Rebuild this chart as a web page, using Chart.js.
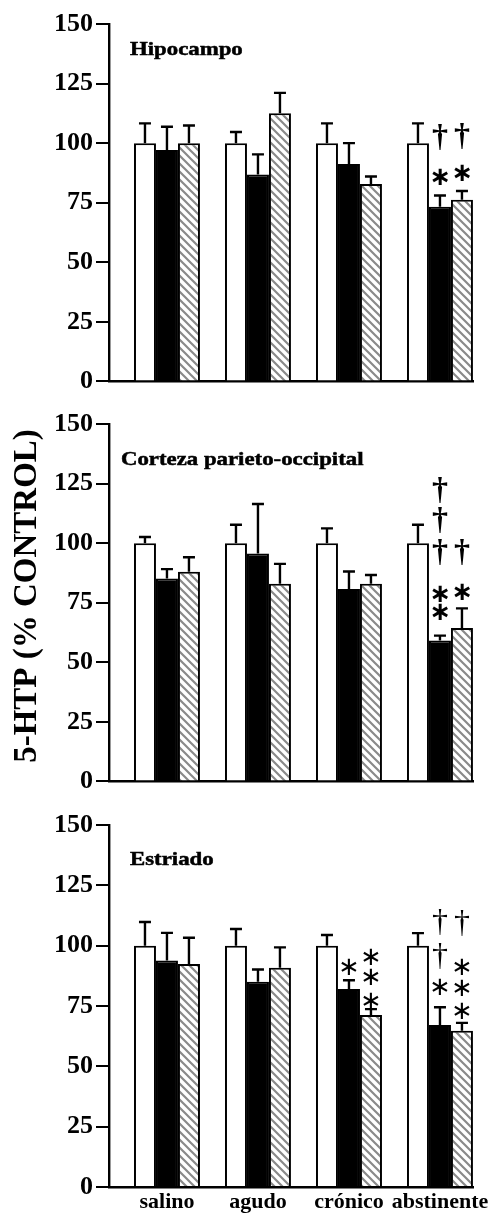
<!DOCTYPE html>
<html>
<head>
<meta charset="utf-8">
<script src="https://cdn.jsdelivr.net/npm/chart.js@4.4.0/dist/chart.umd.min.js"></script>
<style>
  html, body { margin: 0; padding: 0; background: #fff; }
  #wrap { position: relative; width: 500px; height: 1213px; overflow: hidden; background: #fff; }
  canvas { position: absolute; left: 0; }
</style>
</head>
<body>
<div id="wrap">
  <canvas id="hipocampo" width="500" height="400" style="top:0px"></canvas>
  <canvas id="corteza" width="500" height="400" style="top:400px"></canvas>
  <canvas id="estriado" width="500" height="413" style="top:800px"></canvas>
</div>
<script>
// Treatment groups along the x axis
const categories = ['salino', 'agudo', 'crónico', 'abstinente'];
const yTicks = [0, 25, 50, 75, 100, 125, 150];
const yTitle = '5-HTP (% CONTROL)';

// Hipocampo: means and SEM for the three bar series
const hipoWhite = [100, 100, 100, 100];
const hipoWhiteErr = [8.3, 4.7, 8.3, 8.3];
const hipoBlack = [97.1, 86.8, 91.2, 73.3];
const hipoBlackErr = [9.8, 8.5, 8.8, 4.7];
const hipoHatch = [100, 112.5, 82.8, 76.2];
const hipoHatchErr = [7.4, 8.6, 3.2, 3.7];
// significance marks: [series, category, level, symbol]
const hipoMarks = [
  [1, 3, 86.0, '∗'], [1, 3, 102.4, '†'],
  [2, 3, 87.6, '∗'], [2, 3, 103.0, '†']
];

// Corteza parieto-occipital
const cortWhite = [100, 100, 100, 100];
const cortWhiteErr = [2.6, 7.7, 6.2, 7.7];
const cortBlack = [85.2, 95.6, 80.7, 59.1];
const cortBlackErr = [3.9, 20.8, 7.4, 2.1];
const cortHatch = [88.0, 83.0, 83.0, 64.4];
const cortHatchErr = [6.1, 8.3, 3.6, 8.2];
const cortMarks = [
  [1, 3, 71.3, '∗'], [1, 3, 78.7, '∗'],
  [1, 3, 96.1, '†'], [1, 3, 109.8, '†'], [1, 3, 122.3, '†'],
  [2, 3, 79.6, '∗'], [2, 3, 96.1, '†']
];

// Estriado
const estrWhite = [100, 100, 100, 100];
const estrWhiteErr = [9.8, 6.9, 4.4, 5.2];
const estrBlack = [93.9, 85.1, 82.0, 67.1];
const estrBlackErr = [11.4, 5.0, 3.7, 7.4];
const estrHatch = [92.4, 90.8, 71.3, 64.7];
const estrHatchErr = [10.9, 8.5, 2.4, 3.3];
const estrMarks = [
  [1, 2, 91.2, '∗'],
  [2, 2, 77.4, '∗'], [2, 2, 87.1, '∗'], [2, 2, 95.7, '∗'],
  [1, 3, 83.2, '∗'], [1, 3, 95.7, '†'], [1, 3, 109.6, '†'],
  [2, 3, 73.3, '∗'], [2, 3, 82.6, '∗'], [2, 3, 91.5, '∗'], [2, 3, 109.4, '†']
];

// diagonal hatch fill for the third series
function makeHatch() {
  const s = 8;
  const c = document.createElement('canvas');
  c.width = s; c.height = s;
  const g = c.getContext('2d');
  g.fillStyle = '#fff';
  g.fillRect(0, 0, s, s);
  g.strokeStyle = '#8a8a8a';
  g.lineWidth = 2.2;
  g.beginPath();
  for (const o of [-s, 0, s]) {
    g.moveTo(o - 1, -1);
    g.lineTo(o + s + 1, s + 1);
  }
  g.stroke();
  return g.createPattern(c, 'repeat');
}
const hatch = makeHatch();

function toPoints(arr) { return arr.map((v, i) => ({ x: i, y: v })); }

// draw a glyph with its ink centred on (x, y)
function drawInkCentered(ctx, text, x, y) {
  ctx.textAlign = 'center';
  ctx.textBaseline = 'alphabetic';
  const m = ctx.measureText(text);
  const dy = (m.actualBoundingBoxAscent - m.actualBoundingBoxDescent) / 2;
  const dx = (m.actualBoundingBoxLeft - m.actualBoundingBoxRight) / 2;
  ctx.fillText(text, x + dx, y + dy);
}

// error bars (upper half), significance symbols, panel title
const panelPlugin = {
  id: 'panelExtras',
  afterDatasetsDraw(chart, args, opts) {
    const ctx = chart.ctx;
    const yScale = chart.scales.y;
    ctx.save();
    ctx.strokeStyle = '#000';
    ctx.lineWidth = 2.4;
    ctx.lineCap = 'butt';
    chart.data.datasets.forEach((ds, di) => {
      const meta = chart.getDatasetMeta(di);
      meta.data.forEach((bar, i) => {
        const top = yScale.getPixelForValue(ds.data[i].y + ds.err[i]);
        ctx.beginPath();
        ctx.moveTo(bar.x, bar.y);
        ctx.lineTo(bar.x, top);
        ctx.moveTo(bar.x - 6, top);
        ctx.lineTo(bar.x + 6, top);
        ctx.stroke();
      });
    });
    ctx.fillStyle = '#000';
    opts.marks.forEach(([s, c, level, sym]) => {
      const bar = chart.getDatasetMeta(s).data[c];
      const y = yScale.getPixelForValue(level);
      if (sym === '†') {
        ctx.font = opts.markWeight + ' 32px "Liberation Serif"';
      } else {
        ctx.font = opts.markWeight + ' 26px "DejaVu Sans"';
      }
      drawInkCentered(ctx, sym, bar.x, y);
    });
    // panel title, set in a wide heavy serif
    ctx.font = 'bold 19px "Liberation Serif"';
    ctx.textAlign = 'left';
    ctx.textBaseline = 'alphabetic';
    ctx.translate(opts.titleX, opts.titleY);
    ctx.scale(1.2, 1);
    ctx.lineWidth = 0.5;
    ctx.fillText(opts.title, 0, 0);
    ctx.strokeText(opts.title, 0, 0);
    ctx.restore();
  },
  afterDraw(chart, args, opts) {
    if (!opts.axisTitle) return;
    const ctx = chart.ctx;
    ctx.save();
    ctx.translate(27.5, 196);
    ctx.rotate(-Math.PI / 2);
    ctx.font = 'bold 33px "Liberation Serif"';
    ctx.fillStyle = '#000';
    ctx.textAlign = 'center';
    ctx.textBaseline = 'middle';
    ctx.fillText(opts.axisTitle, 0, 0);
    ctx.restore();
  }
};

function makePanel(id, white, whiteErr, black, blackErr, hatched, hatchedErr, extras, showX, padTop) {
  return new Chart(document.getElementById(id), {
    type: 'bar',
    data: {
      datasets: [
        { data: toPoints(white), err: whiteErr, backgroundColor: '#fff', borderColor: '#000', borderWidth: 2 },
        { data: toPoints(black), err: blackErr, backgroundColor: '#000', borderColor: '#000', borderWidth: 2 },
        { data: toPoints(hatched), err: hatchedErr, backgroundColor: hatch, borderColor: '#000', borderWidth: 2 }
      ]
    },
    options: {
      responsive: false,
      animation: false,
      devicePixelRatio: 1,
      categoryPercentage: 0.725,
      barPercentage: 1,
      layout: { padding: { top: padTop, left: 0, right: 27, bottom: showX ? 0 : 14 } },
      plugins: {
        legend: { display: false },
        tooltip: { enabled: false },
        panelExtras: extras
      },
      scales: {
        x: {
          type: 'linear',
          offset: false,
          min: -0.637,
          max: 3.363,
          afterBuildTicks: (s) => { s.ticks = categories.map((_, i) => ({ value: i })); },
          afterFit: (s) => { s.height = showX ? 26 : 0; },
          grid: { display: false, drawTicks: false, offset: false },
          border: { display: true, color: '#000', width: 2.6 },
          ticks: {
            display: showX,
            autoSkip: false,
            maxRotation: 0,
            padding: 2,
            color: '#000',
            font: { family: '"Liberation Serif"', weight: 'bold', size: 22 },
            callback: (v) => categories[v]
          }
        },
        y: {
          min: 0,
          max: 150,
          afterBuildTicks: (s) => { s.ticks = yTicks.map(v => ({ value: v })); },
          afterFit: (s) => { s.width = 109; },
          grid: { display: true, drawOnChartArea: false, drawTicks: true, tickLength: 13, color: '#000', lineWidth: 2 },
          border: { display: true, color: '#000', width: 2.4 },
          ticks: {
            padding: 3,
            color: '#000',
            font: { family: '"Liberation Serif"', weight: 'bold', size: 26 }
          }
        }
      }
    },
    plugins: [panelPlugin]
  });
}

makePanel('hipocampo', hipoWhite, hipoWhiteErr, hipoBlack, hipoBlackErr, hipoHatch, hipoHatchErr,
  { marks: hipoMarks, markWeight: 'bold', title: 'Hipocampo', titleX: 130, titleY: 55 }, false, 24);
makePanel('corteza', cortWhite, cortWhiteErr, cortBlack, cortBlackErr, cortHatch, cortHatchErr,
  { marks: cortMarks, markWeight: 'bold', title: 'Corteza parieto-occipital', titleX: 121, titleY: 65, axisTitle: yTitle }, false, 24);
makePanel('estriado', estrWhite, estrWhiteErr, estrBlack, estrBlackErr, estrHatch, estrHatchErr,
  { marks: estrMarks, markWeight: 'normal', title: 'Estriado', titleX: 130, titleY: 65 }, true, 25);
</script>
</body>
</html>
